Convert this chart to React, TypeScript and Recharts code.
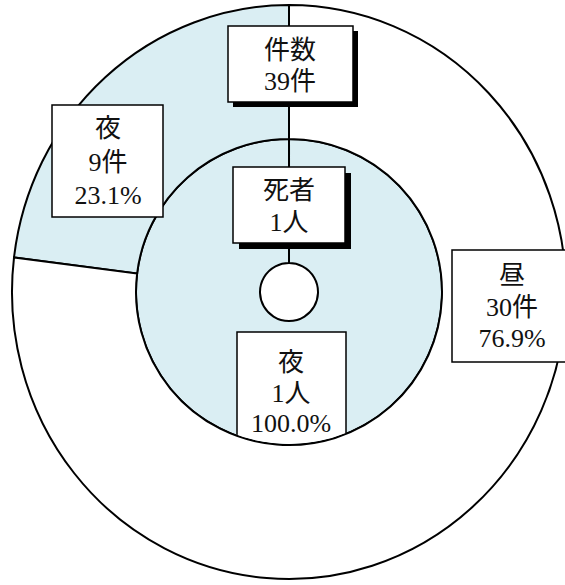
import React from "react";
import { PieChart, Pie, Cell } from "recharts";

// ---- data ----
const outerNames = ["夜", "昼"];
const outerValues = [9, 30];
const innerNames = ["夜"];
const innerValues = [1];
const outerTitleName = "件数";
const innerTitleName = "死者";
const outerUnit = "件";
const innerUnit = "人";

const BLUE = "#DAEEF3";
const outerColors = [BLUE, "#FFFFFF"];
const innerColors = [BLUE];

// ---- layout ----
const W = 565;
const H = 585;
const CX = 289;
const CY = 292;
const R_HOLE = 29;
const R_MID = 153;
const R_OUT = 277;
const ELLIPSE = 1.036;
const FONT = "'Liberation Serif', 'Noto Sans CJK JP', serif";
const FS = 26;

const outerData = outerNames.map((n, i) => ({ name: n, value: outerValues[i] }));
const innerData = innerNames.map((n, i) => ({ name: n, value: innerValues[i] }));
const sum = (a: number[]) => a.reduce((s, v) => s + v, 0);
const pct = (v: number, a: number[]) => ((v / sum(a)) * 100).toFixed(1) + "%";

const sectorShape = (k: number) => (p: any) => {
  const { cx, cy, innerRadius, outerRadius, startAngle, endAngle, fill } = p;
  const s = startAngle;
  let e = endAngle;
  if (Math.abs(e - s) >= 359.999) e = s + (e > s ? 359.99 : -359.99);
  const rad = Math.PI / 180;
  const rx = outerRadius;
  const ry = outerRadius * k;
  const pt = (r1: number, r2: number, a: number) =>
    `${cx + r1 * Math.cos(a * rad)},${cy - r2 * Math.sin(a * rad)}`;
  const large = Math.abs(e - s) > 180 ? 1 : 0;
  const sw = e > s ? 0 : 1;
  const d =
    `M${pt(rx, ry, s)} A${rx},${ry} 0 ${large} ${sw} ${pt(rx, ry, e)} ` +
    `L${pt(innerRadius, innerRadius, e)} ` +
    `A${innerRadius},${innerRadius} 0 ${large} ${1 - sw} ${pt(innerRadius, innerRadius, s)} Z`;
  return <path d={d} fill={fill} stroke="#000" strokeWidth={2} />;
};

type BoxProps = {
  x: number;
  y: number;
  w: number;
  h: number;
  tx: number;
  lines: string[];
  ly: number[];
  shadow?: number;
  clipId?: string;
};

const Box = ({ x, y, w, h, tx, lines, ly, shadow, clipId }: BoxProps) => (
  <g clipPath={clipId ? `url(#${clipId})` : undefined}>
    {shadow ? <rect x={x + shadow} y={y + shadow} width={w} height={h} fill="#000" /> : null}
    <rect x={x} y={y} width={w} height={h} fill="#fff" stroke="#000" strokeWidth={1.5} />
    {lines.map((t, i) => (
      <text
        key={i}
        x={tx}
        y={ly[i]}
        textAnchor="middle"
        dominantBaseline="central"
        fontFamily={FONT}
        fontSize={FS}
        fill="#111"
      >
        {t}
      </text>
    ))}
  </g>
);

const outerLabel = (p: any) => {
  const { cx, cy, index } = p;
  const v = outerValues[index];
  const lines = [outerNames[index], `${v}${outerUnit}`, pct(v, outerValues)];
  if (index === 0) {
    return (
      <g>
        <Box x={cx - 61} y={cy - 266} w={125} h={76} tx={cx + 1} shadow={5}
          lines={[outerTitleName, `${sum(outerValues)}${outerUnit}`]} ly={[cy - 242, cy - 211]} />
        <Box x={cx - 237} y={cy - 187} w={111} h={112} tx={cx - 181}
          lines={lines} ly={[cy - 164, cy - 130, cy - 97]} />
      </g>
    );
  }
  return (
    <Box x={cx + 163} y={cy - 42} w={120} h={112} tx={cx + 223}
      lines={lines} ly={[cy - 17, cy + 15, cy + 46]} />
  );
};

const innerLabel = (p: any) => {
  const { cx, cy, index } = p;
  const v = innerValues[index];
  const lines = [innerNames[index], `${v}${innerUnit}`, pct(v, innerValues)];
  return (
    <g>
      <defs>
        <clipPath id="innerClip">
          <circle cx={cx} cy={cy} r={R_MID - 1} />
        </clipPath>
      </defs>
      <Box x={cx - 56} y={cy - 125} w={112} h={76} tx={cx} shadow={6}
        lines={[innerTitleName, `${sum(innerValues)}${innerUnit}`]} ly={[cy - 102, cy - 70]} />
      <Box x={cx - 52} y={cy + 40} w={109} h={120} tx={cx + 2} clipId="innerClip"
        lines={lines} ly={[cy + 70, cy + 101, cy + 131]} />
    </g>
  );
};

export default function App() {
  return (
    <div style={{ position: "absolute", left: 0, top: 0, width: W, height: H, background: "#fff" }}>
      <PieChart width={W} height={H} margin={{ top: 0, right: 0, bottom: 0, left: 0 }}>
        <Pie
          data={innerData}
          dataKey="value"
          nameKey="name"
          cx={CX}
          cy={CY}
          innerRadius={R_HOLE}
          outerRadius={R_MID}
          startAngle={90}
          endAngle={450}
          stroke="#000"
          strokeWidth={2}
          isAnimationActive={false}
          shape={sectorShape(1)}
          label={innerLabel}
          labelLine={false}
        >
          {innerData.map((d, i) => (
            <Cell key={d.name} fill={innerColors[i]} />
          ))}
        </Pie>
        <Pie
          data={outerData}
          dataKey="value"
          nameKey="name"
          cx={CX}
          cy={CY}
          innerRadius={R_MID}
          outerRadius={R_OUT}
          startAngle={90}
          endAngle={450}
          stroke="#000"
          strokeWidth={2}
          isAnimationActive={false}
          shape={sectorShape(ELLIPSE)}
          label={outerLabel}
          labelLine={false}
        >
          {outerData.map((d, i) => (
            <Cell key={d.name} fill={outerColors[i]} />
          ))}
        </Pie>
      </PieChart>
    </div>
  );
}
